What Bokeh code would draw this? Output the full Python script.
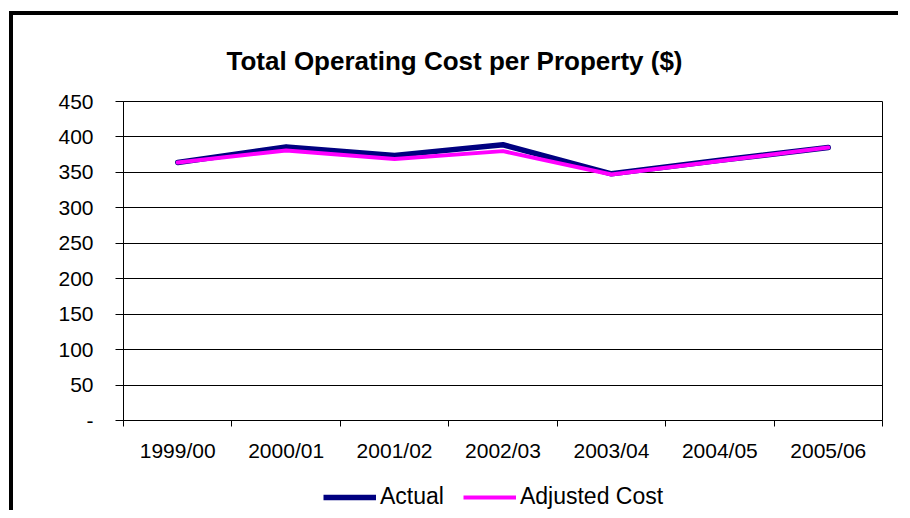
from bokeh.plotting import figure
from bokeh.layouts import column
from bokeh.models import (Range1d, FactorRange, LinearAxis, FixedTicker, Legend, LegendItem)
from bokeh.embed import file_html
from bokeh.resources import INLINE

years = ["1999/00", "2000/01", "2001/02", "2002/03", "2003/04", "2004/05", "2005/06"]
actual = [364, 386, 374, 389, 348, 367, 385]
adjusted = [364, 381, 369, 380, 347, 366, 385]
y_ticks = [0, 50, 100, 150, 200, 250, 300, 350, 400, 450]
y_labels = ["-", "50", "100", "150", "200", "250", "300", "350", "400", "450"]

FONT = "Liberation Sans"
NAVY = "#000080"
MAGENTA = "#FF00FF"

p = figure(width=889, height=455, output_backend="svg", toolbar_location=None,
           x_range=FactorRange(factors=years), y_range=Range1d(0, 450),
           x_axis_location=None, y_axis_location=None,
           min_border_left=110, min_border_top=86, min_border_right=20, min_border_bottom=50)
p.styles = {"border-top": "4px solid black", "border-left": "4px solid black"}

p.background_fill_color = "white"
p.border_fill_color = "white"
p.outline_line_color = "black"
p.outline_line_width = 1

# title
p.title.text = "Total Operating Cost per Property ($)"
p.title.text_font = FONT
p.title.text_font_style = "bold"
p.title.text_font_size = "26px"
p.title.text_color = "black"
p.title.align = "left"
p.title.offset = 103
p.title.standoff = 52

# x axis: tick marks at category boundaries (synthetic coords), labels at centres
centres = [i + 0.5 for i in range(len(years))]
bounds = list(range(len(years) + 1))
xaxis = LinearAxis(ticker=FixedTicker(ticks=centres, minor_ticks=bounds),
                   major_label_overrides={c: y for c, y in zip(centres, years)})
xaxis.major_tick_line_color = None
xaxis.major_tick_out = 0
xaxis.major_tick_in = 0
xaxis.minor_tick_line_color = "black"
xaxis.minor_tick_out = 6
xaxis.minor_tick_in = 0
xaxis.axis_line_color = "black"
xaxis.major_label_text_font = FONT
xaxis.major_label_text_font_size = "21px"
xaxis.major_label_text_color = "black"
xaxis.major_label_standoff = 12
p.add_layout(xaxis, "below")

# y axis
yaxis = LinearAxis(ticker=FixedTicker(ticks=y_ticks),
                   major_label_overrides={t: l for t, l in zip(y_ticks, y_labels)})
yaxis.major_tick_out = 8
yaxis.major_tick_in = 0
yaxis.minor_tick_line_color = None
yaxis.axis_line_color = "black"
yaxis.major_label_text_font = FONT
yaxis.major_label_text_font_size = "21px"
yaxis.major_label_text_color = "black"
yaxis.major_label_standoff = 22
p.add_layout(yaxis, "left")

p.xgrid.visible = False
p.ygrid.ticker = FixedTicker(ticks=y_ticks)
p.ygrid.grid_line_color = "black"
p.ygrid.grid_line_width = 1

p.line(x=years, y=actual, line_color=NAVY, line_width=5.5,
       line_join="round", line_cap="round")
p.line(x=years, y=adjusted, line_color=MAGENTA, line_width=4,
       line_join="round", line_cap="round")

# legend strip below the chart (series drawn out of its visible range; only the key shows)
lg = figure(width=889, height=44, output_backend="svg", toolbar_location=None,
            x_range=FactorRange(factors=years), y_range=Range1d(0, 1),
            x_axis_location=None, y_axis_location=None,
            min_border_left=0, min_border_top=0, min_border_right=0, min_border_bottom=0)
lg.styles = {"border-left": "4px solid black"}
lg.outline_line_color = None
lg.xgrid.visible = False
lg.ygrid.visible = False
lg.background_fill_color = "white"
lg.border_fill_color = "white"
k1 = lg.line(x=years, y=actual, line_color=NAVY, line_width=5.5)
k2 = lg.line(x=years, y=adjusted, line_color=MAGENTA, line_width=4)

legend = Legend(items=[LegendItem(label="Actual", renderers=[k1]),
                       LegendItem(label="Adjusted Cost", renderers=[k2])],
                orientation="horizontal", location=(200, 0))
legend.glyph_width = 53
legend.glyph_height = 20
legend.label_height = 20
legend.label_standoff = 4
legend.spacing = 19
legend.padding = 0
legend.margin = 0
legend.border_line_color = None
legend.background_fill_alpha = 0
legend.label_text_font = FONT
legend.label_text_font_size = "23px"
legend.label_text_color = "black"
lg.add_layout(legend, "center")

layout = column(p, lg, spacing=0)
layout.margin = (11, 0, 0, 9)

open("out.html", "w").write(file_html(layout, INLINE))
